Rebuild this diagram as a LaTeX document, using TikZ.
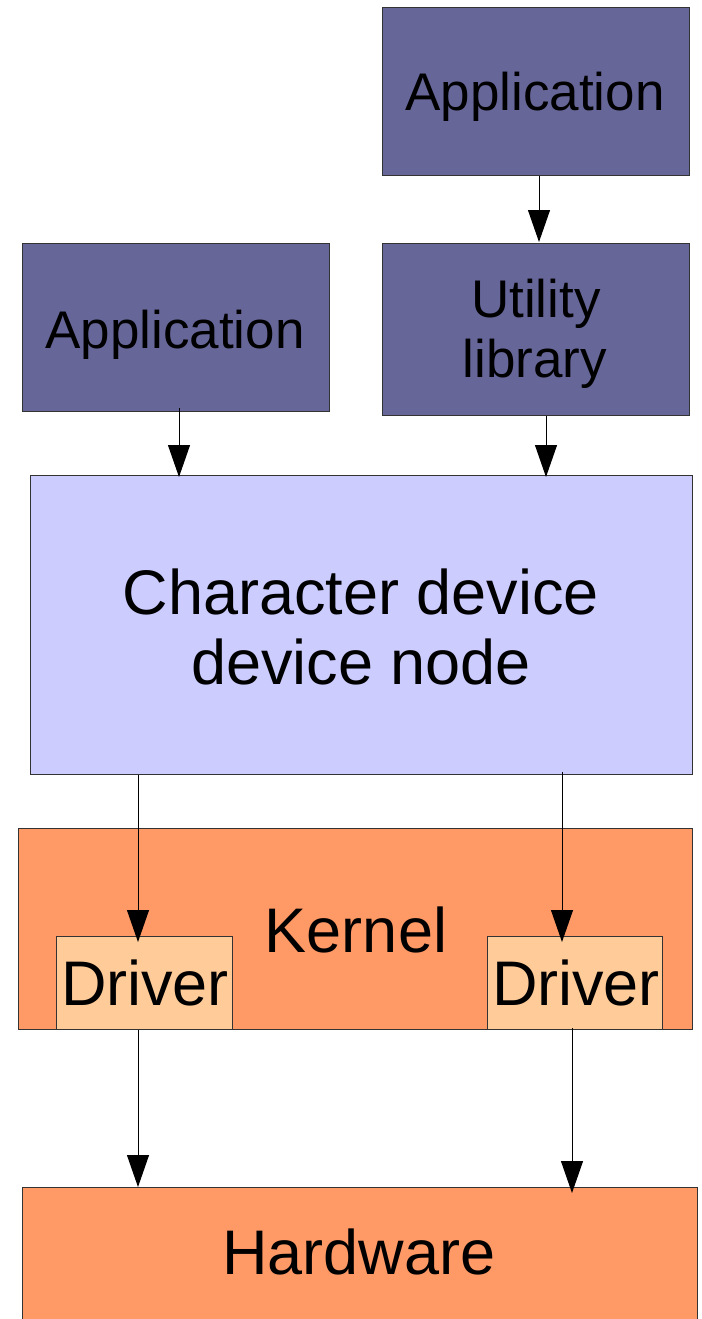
\documentclass[tikz,border=0pt]{standalone}
\usepackage{fontspec}
\setmainfont{Liberation Sans}
\usetikzlibrary{arrows.meta}
\definecolor{appcol}{HTML}{666699}
\definecolor{devcol}{HTML}{CCCCFF}
\definecolor{kercol}{HTML}{FF9966}
\definecolor{drvcol}{HTML}{FFCC99}
\definecolor{edgecol}{HTML}{333333}
\tikzset{
  boxstyle/.style={draw=edgecol, line width=1pt, inner sep=0pt, anchor=north west},
  bigtext/.style={font=\fontsize{63}{70}\selectfont, inner sep=0pt, anchor=base},
  midtext/.style={font=\fontsize{53}{60}\selectfont, inner sep=0pt, anchor=base},
  arr/.style={line width=1pt, draw=black, -{Triangle[length=32pt,width=22pt]}},
}
\begin{document}
\begin{tikzpicture}[x=1pt,y=-1pt]
\useasboundingbox (0,0) rectangle (701,1319);
\clip (0,0) rectangle (701,1319);
% boxes
\node[boxstyle, fill=appcol, minimum width=307pt, minimum height=168pt] (app2) at (382,7) {};
\node[boxstyle, fill=appcol, minimum width=307pt, minimum height=168pt] (app1) at (22,243) {};
\node[boxstyle, fill=appcol, minimum width=307pt, minimum height=172pt] (util) at (382,243) {};
\node[boxstyle, fill=devcol, minimum width=662pt, minimum height=299pt] (char) at (30,475) {};
\node[boxstyle, fill=kercol, minimum width=674pt, minimum height=201pt] (kern) at (18,828) {};
\node[boxstyle, fill=drvcol, minimum width=176pt, minimum height=93pt] (drvL) at (56,936) {};
\node[boxstyle, fill=drvcol, minimum width=175pt, minimum height=93pt] (drvR) at (487,936) {};
\node[boxstyle, fill=kercol, minimum width=675pt, minimum height=160pt] (hw) at (22,1187) {};
% labels
\node[midtext] (t_app2) at (535,111) {Application};
\node[midtext] (t_app1) at (175,348) {Application};
\node[midtext] (t_util1) at (536,317) {Utility};
\node[midtext] (t_util2) at (535,377) {library};
\node[bigtext] (t_char1) at (361,614) {Character device};
\node[bigtext] (t_char2) at (361,684) {device node};
\node[bigtext] (t_kern) at (356,952) {Kernel};
\node[bigtext] (t_drvL) at (145,1005) {Driver};
\node[bigtext] (t_drvR) at (576,1005) {Driver};
\node[bigtext] (t_hw) at (359,1274) {Hardware};
% connectors
\draw[arr] (app2.south -| 539,0) -- ([yshift=1pt]util.north -| 539,0);
\draw[arr] ([yshift=4pt]app1.south -| 179,0) -- ([yshift=-2pt]char.north -| 179,0);
\draw[arr] (util.south -| 546,0) -- ([yshift=-2pt]char.north -| 546,0);
\draw[arr] (char.south -| 138,0) -- ([yshift=-6pt]drvL.north -| 138,0);
\draw[arr] ([yshift=3pt]char.south -| 562,0) -- ([yshift=-6pt]drvR.north -| 562,0);
\draw[arr] (drvL.south -| 138,0) -- (hw.north -| 138,0);
\draw[arr] ([yshift=2pt]drvR.south -| 572,0) -- ([yshift=-6pt]hw.north -| 572,0);
\end{tikzpicture}
\end{document}
